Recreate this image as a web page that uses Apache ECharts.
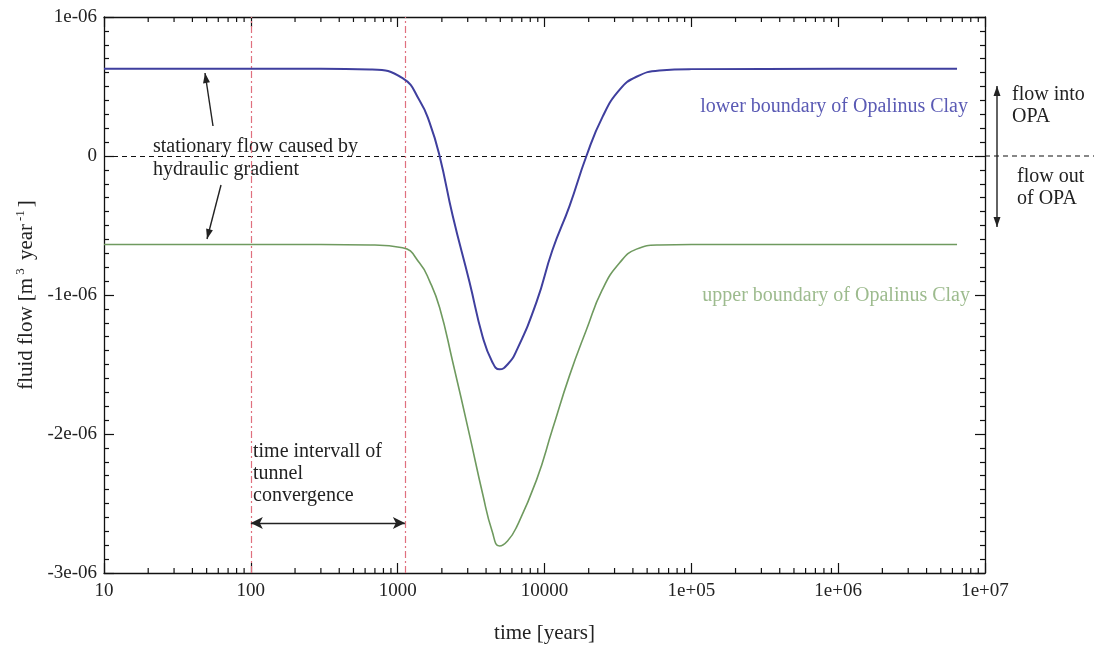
<!DOCTYPE html>
<html><head><meta charset="utf-8">
<script src="https://cdn.jsdelivr.net/npm/echarts@6/dist/echarts.min.js"></script>
<style>html,body{margin:0;padding:0;background:#fff}#c{width:1102px;height:649px}</style>
</head><body><div id="c"></div>
<script>
// ---- data ----
const timeYears = [10, 100, 300, 650, 1080, 1410, 1650, 1930, 2370, 3090, 3790, 4400, 4940, 5600, 6450, 8830, 11300, 14800, 19300, 24800, 32400, 42300, 60600, 100000, 1000000, 6450000];
const lowerBoundary = [0.627e-6, 0.627e-6, 0.627e-6, 0.622e-6, 0.56e-6, 0.40e-6, 0.24e-6, 0.0, -0.43e-6, -0.91e-6, -1.30e-6, -1.48e-6, -1.535e-6, -1.50e-6, -1.40e-6, -1.05e-6, -0.68e-6, -0.36e-6, 0.0, 0.28e-6, 0.475e-6, 0.57e-6, 0.615e-6, 0.625e-6, 0.627e-6, 0.627e-6];
const upperBoundary = [-0.637e-6, -0.637e-6, -0.637e-6, -0.64e-6, -0.66e-6, -0.77e-6, -0.90e-6, -1.09e-6, -1.48e-6, -2.01e-6, -2.43e-6, -2.70e-6, -2.806e-6, -2.77e-6, -2.67e-6, -2.33e-6, -1.97e-6, -1.58e-6, -1.25e-6, -0.96e-6, -0.77e-6, -0.67e-6, -0.64e-6, -0.637e-6, -0.637e-6, -0.637e-6];
const xTickLabels = {10: '10', 100: '100', 1000: '1000', 10000: '10000', 100000: '1e+05', 1000000: '1e+06', 10000000: '1e+07'};
const convergenceStart = 100;
const convergenceEnd = 1120;
const xMinorTicks = [];
for (let d = 10; d < 1e7; d *= 10) for (let m = 2; m <= 9; m++) xMinorTicks.push(m * d);

const SERIF = '"Liberation Serif","DejaVu Serif",serif';
const BLUE = '#3f3f9e', GREEN = '#6f9a5f';
const chart = echarts.init(document.getElementById('c'), null, {renderer: 'canvas'});

function yFmt(v) { const n = Math.round(v * 1e6); return n === 0 ? '0' : n + 'e-06'; }
const xBase = {
  type: 'log', logBase: 10, min: 10, max: 1e7,
  axisLine: {show: true, onZero: false, lineStyle: {color: '#111', width: 1.3}},
  splitLine: {show: false},
  axisTick: {inside: true, length: 10, lineStyle: {color: '#111', width: 1.2}},
};
const yBase = {
  type: 'value', min: -3e-6, max: 1e-6, interval: 1e-6,
  axisLine: {show: true, onZero: false, lineStyle: {color: '#111', width: 1.3}},
  splitLine: {show: false},
  axisTick: {inside: true, length: 10, lineStyle: {color: '#111', width: 1.2}},
  minorTick: {show: true, splitNumber: 10, length: 5, lineStyle: {color: '#111', width: 1.2}},
};

const option = {
  animation: false,
  grid: {left: 104, right: 117, top: 17, bottom: 75},
  xAxis: [
    Object.assign({}, xBase, {
      position: 'bottom',
      name: 'time [years]', nameLocation: 'middle', nameGap: 50,
      nameTextStyle: {fontFamily: SERIF, fontSize: 21, color: '#222'},
      axisLabel: {fontFamily: SERIF, fontSize: 19, color: '#222', margin: 9,
        formatter: v => xTickLabels[Math.round(v)] || ''}
    }),
    Object.assign({}, xBase, {position: 'top', axisLabel: {show: false}})
  ],
  yAxis: [
    Object.assign({}, yBase, {
      position: 'left',
      name: 'fluid flow [m{sup|3} year{sup|-1}]', nameLocation: 'middle', nameGap: 62,
      nameTextStyle: {fontFamily: SERIF, fontSize: 21, color: '#222',
        rich: {sup: {fontFamily: SERIF, fontSize: 13, color: '#222', verticalAlign: 'top', padding: [0, 3, 10, 3]}}},
      axisLabel: {fontFamily: SERIF, fontSize: 19, color: '#222', margin: 7, formatter: yFmt}
    }),
    Object.assign({}, yBase, {position: 'right', axisLabel: {show: false}})
  ],
  series: [
    {
      type: 'line', name: 'lower boundary of Opalinus Clay',
      data: timeYears.map((t, i) => [t, lowerBoundary[i]]),
      smooth: 0.5, symbol: 'none',
      lineStyle: {color: BLUE, width: 2}, z: 5,
      markLine: {
        silent: true, symbol: 'none', label: {show: false},
        lineStyle: {color: '#111', type: [5, 4], width: 1.2},
        data: [{yAxis: 0}]
      }
    },
    {
      type: 'line', name: 'upper boundary of Opalinus Clay',
      data: timeYears.map((t, i) => [t, upperBoundary[i]]),
      smooth: 0.5, symbol: 'none',
      lineStyle: {color: GREEN, width: 1.6}, z: 5,
      markLine: {
        silent: true, symbol: 'none', label: {show: false},
        lineStyle: {color: '#e0707e', type: [7, 3, 2, 3], width: 1.2},
        data: [{xAxis: convergenceStart}, {xAxis: convergenceEnd}]
      }
    },
    {
      type: 'line', data: [], symbol: 'none',
      markLine: {
        silent: true, label: {show: false},
        symbol: ['arrow', 'arrow'], symbolSize: [9, 12],
        lineStyle: {color: '#222', type: 'solid', width: 1.4},
        data: [[{coord: [convergenceStart, -2.64e-6]}, {coord: [convergenceEnd, -2.64e-6]}]]
      }
    },
    {
      type: 'custom', silent: true, z: 10,
      data: xMinorTicks.map(v => [v]),
      renderItem: function (params, api) {
        const b = api.coord([api.value(0), -3e-6]);
        const t = api.coord([api.value(0), 1e-6]);
        const st = {stroke: '#111', lineWidth: 1.2};
        return {type: 'group', children: [
          {type: 'line', shape: {x1: b[0], y1: b[1], x2: b[0], y2: b[1] - 5}, style: st},
          {type: 'line', shape: {x1: t[0], y1: t[1], x2: t[0], y2: t[1] + 5}, style: st}
        ]};
      }
    }
  ]
};
chart.setOption(option);

// ---- annotations ----
function arrowHead(x1, y1, x2, y2) {
  const a = Math.atan2(y2 - y1, x2 - x1), L = 10, W = 3.5;
  const bx = x2 - L * Math.cos(a), by = y2 - L * Math.sin(a);
  return {type: 'polygon', shape: {points: [[x2, y2], [bx + W * Math.sin(a), by - W * Math.cos(a)], [bx - W * Math.sin(a), by + W * Math.cos(a)]]}, style: {fill: '#222'}};
}
function arrow(x1, y1, x2, y2) {
  return [{type: 'line', shape: {x1, y1, x2, y2}, style: {stroke: '#222', lineWidth: 1.4}}, arrowHead(x1, y1, x2, y2)];
}
function txt(x, y, s, color, size, align) {
  return {type: 'text', x, y, style: {text: s, fill: color || '#222', font: (size || 20) + 'px ' + SERIF, textAlign: align || 'left', textVerticalAlign: 'middle'}};
}
const zeroY = chart.convertToPixel({yAxisIndex: 0}, 0);
const rightX = chart.convertToPixel({xAxisIndex: 0}, 1e7);
const g = [];
g.push({type: 'line', shape: {x1: rightX, y1: zeroY, x2: 1094, y2: zeroY}, style: {stroke: '#111', lineWidth: 1.2, lineDash: [5, 4]}});
g.push(txt(153, 147, 'stationary flow caused by'));
g.push(txt(153, 170, 'hydraulic gradient'));
g.push(...arrow(213, 126, 205, 73));
g.push(...arrow(221, 185, 207, 239));
g.push(txt(253, 452, 'time intervall of'));
g.push(txt(253, 474, 'tunnel'));
g.push(txt(253, 496, 'convergence'));
g.push(txt(968, 107, 'lower boundary of Opalinus Clay', '#5a5ab4', 20, 'right'));
g.push(txt(970, 296, 'upper boundary of Opalinus Clay', '#9dbb8e', 20, 'right'));
g.push(...arrow(997, 156, 997, 86));
g.push(...arrow(997, 156, 997, 227));
g.push(txt(1012, 95, 'flow into'));
g.push(txt(1012, 117, 'OPA'));
g.push(txt(1017, 177, 'flow out'));
g.push(txt(1017, 199, 'of OPA'));
chart.setOption({graphic: g});
</script></body></html>
